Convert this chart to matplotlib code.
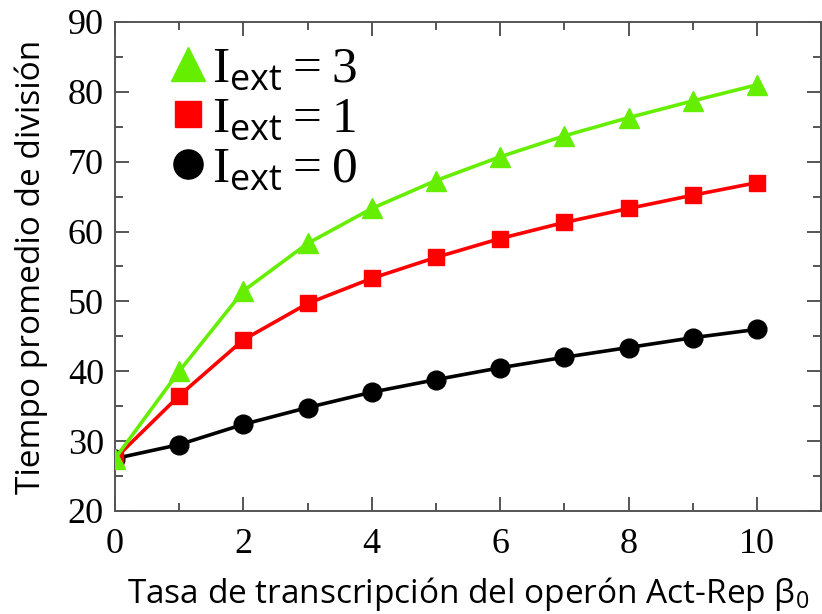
import matplotlib.pyplot as plt
from matplotlib.lines import Line2D
from matplotlib.ticker import MultipleLocator

plt.rcParams['mathtext.fontset'] = 'custom'
plt.rcParams['mathtext.rm'] = 'Liberation Serif'
plt.rcParams['mathtext.sf'] = 'Open Sans'

# data
beta0 = [0, 1, 2, 3, 4, 5, 6, 7, 8, 9, 10]
t_iext3 = [27.5, 40.0, 51.5, 58.3, 63.3, 67.3, 70.7, 73.7, 76.3, 78.7, 81.0]
t_iext1 = [27.5, 36.5, 44.5, 49.7, 53.3, 56.3, 59.0, 61.3, 63.3, 65.2, 67.0]
t_iext0 = [27.5, 29.5, 32.4, 34.8, 37.0, 38.8, 40.5, 42.0, 43.4, 44.8, 46.0]
x_ticks = [0, 2, 4, 6, 8, 10]
y_ticks = [20, 30, 40, 50, 60, 70, 80, 90]

green = '#66ee00'
red = '#ff0000'

fig = plt.figure(figsize=(8.22, 6.14), dpi=100)
ax = fig.add_axes([0.1399, 0.1678, 0.859, 0.7964])

ax.plot(beta0, t_iext0, color='black', lw=2.6, marker='o', ms=13.5, zorder=3)
ax.plot(beta0, t_iext1, color=red, lw=2.6, marker='s', ms=12, zorder=4)
ax.plot(beta0, t_iext3, color=green, lw=2.6, marker='^', ms=14, zorder=5)

ax.set_xlim(0, 11)
ax.set_ylim(20, 90)
ax.set_xticks(x_ticks)
ax.set_yticks(y_ticks)
ax.xaxis.set_minor_locator(MultipleLocator(1))
ax.yaxis.set_minor_locator(MultipleLocator(5))
ax.tick_params(which='both', direction='in', top=True, right=True,
               color='#555555', width=1.4)
ax.tick_params(which='major', length=10, pad=8, labelsize=26)
ax.tick_params(axis='x', which='major', pad=12)
ax.tick_params(which='minor', length=5.5)
for lab in ax.get_xticklabels() + ax.get_yticklabels():
    lab.set_family('Liberation Serif')
for sp in ax.spines.values():
    sp.set_color('#555555')
    sp.set_linewidth(1.4)

ax.set_xlabel(r'Tasa de transcripción del operón Act-Rep $\mathsf{\beta_0}$',
              family='Open Sans', fontsize=24, labelpad=10)
ax.set_ylabel('Tiempo promedio de división', family='Open Sans',
              fontsize=24, labelpad=14)

handles = [
    Line2D([], [], color=green, marker='^', ms=24, ls='none'),
    Line2D([], [], color=red, marker='s', ms=19, ls='none'),
    Line2D([], [], color='black', marker='o', ms=21, ls='none'),
]
labels = [r'$\mathrm{I}_{\mathsf{ext}}\mathrm{ = 3}$',
          r'$\mathrm{I}_{\mathsf{ext}}\mathrm{ = 1}$',
          r'$\mathrm{I}_{\mathsf{ext}}\mathrm{ = 0}$']
ax.legend(handles, labels, loc='upper left', frameon=False, fontsize=37,
          handlelength=0.65, handletextpad=0.15, labelspacing=0.0,
          borderaxespad=0.0, bbox_to_anchor=(0.05, 1.0))

fig.savefig('out.png', dpi=100)
